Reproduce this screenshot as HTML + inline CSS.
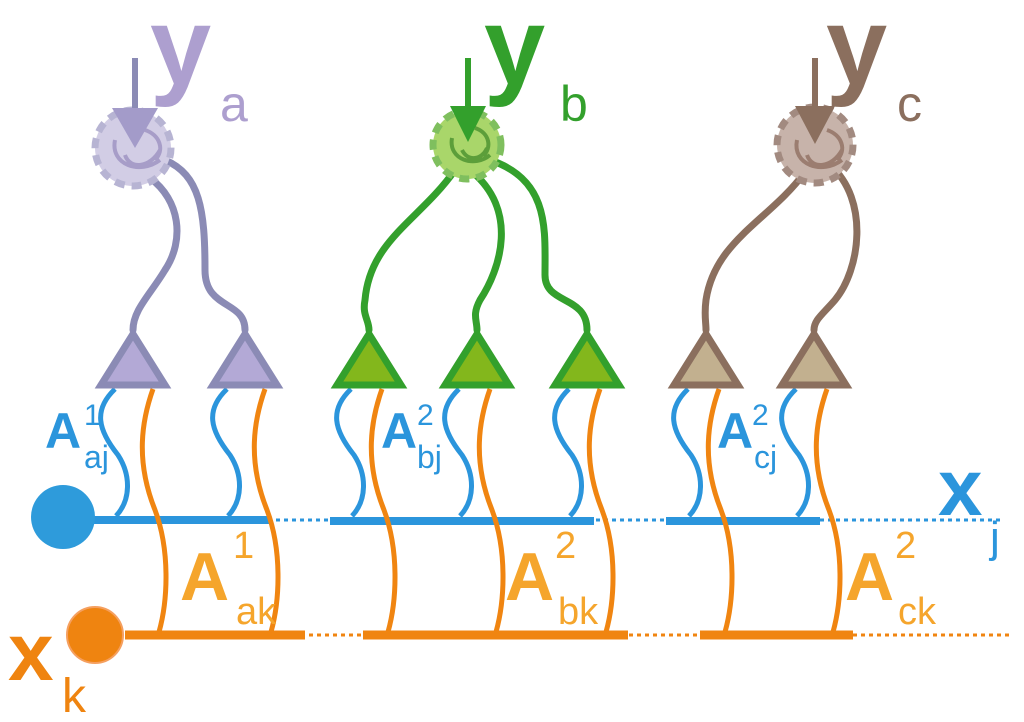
<!DOCTYPE html>
<html><head><meta charset="utf-8"><style>html,body{margin:0;padding:0;background:#fff}svg{display:block}text{font-family:"Liberation Sans",sans-serif}</style></head><body>
<svg width="1024" height="722" viewBox="0 0 1024 722" xmlns="http://www.w3.org/2000/svg">
<defs>
<g id="bw"><path d="M-18,389 C-40,410 -35,430 -15,455 C-2,475 -2,500 -17,516" fill="none" stroke="#2b95dc" stroke-width="5"/></g>
<g id="ow"><path d="M13,389 C2,420 -5,460 15,510 C30,550 28,600 19,632" fill="none" stroke="#f08511" stroke-width="5"/></g>
</defs>
<line x1="60" y1="520" x2="1000" y2="520" stroke="#2b95dc" stroke-width="3" stroke-dasharray="4,4"/>
<line x1="125" y1="635" x2="1010" y2="635" stroke="#f08511" stroke-width="3" stroke-dasharray="4,4"/>
<g stroke="#2b95dc" stroke-width="8"><line x1="60" y1="520" x2="270" y2="520"/><line x1="330" y1="521" x2="594" y2="521"/><line x1="666" y1="521" x2="820" y2="521"/></g>
<g stroke="#f08511" stroke-width="9"><line x1="125" y1="635" x2="305" y2="635"/><line x1="363" y1="635" x2="628" y2="635"/><line x1="700" y1="635" x2="853" y2="635"/></g>
<use href="#bw" x="133"/><use href="#ow" x="140"/><use href="#bw" x="245"/><use href="#ow" x="252"/>
<use href="#bw" x="369"/><use href="#ow" x="369"/><use href="#bw" x="477"/><use href="#ow" x="477"/><use href="#bw" x="587"/><use href="#ow" x="587"/>
<use href="#bw" x="706"/><use href="#ow" x="706"/><use href="#bw" x="814"/><use href="#ow" x="814"/>
<circle cx="63" cy="517" r="32" fill="#2e9bdb"/>
<circle cx="95" cy="635" r="28" fill="#ef8410" stroke="#f5a060" stroke-width="2"/>
<g fill="none" stroke-width="7" stroke-linecap="round">
<path d="M150,178 C180,200 185,240 165,270 C150,295 133,310 133,330" stroke="#8b8bb5"/>
<path d="M165,160 C200,175 205,210 205,270 C205,310 245,300 245,330" stroke="#8b8bb5"/>
<path d="M455,170 C420,220 370,240 365,300 C362,315 369,320 369,330" stroke="#33a02c"/>
<path d="M470,170 C520,210 500,270 480,300 C472,315 477,320 477,330" stroke="#33a02c"/>
<path d="M490,160 C550,180 545,230 545,275 C545,305 587,295 587,330" stroke="#33a02c"/>
<path d="M805,172 C770,220 715,240 706,300 C704,315 706,322 706,330" stroke="#8b6f5e"/>
<path d="M830,165 C870,200 860,270 835,300 C822,315 814,320 814,330" stroke="#8b6f5e"/>
</g>
<g stroke-width="7" stroke-linejoin="miter">
<polygon points="133,334 101,385 165,385" fill="#b3a9d6" stroke="#8b8bb5"/>
<polygon points="245,334 213,385 277,385" fill="#b3a9d6" stroke="#8b8bb5"/>
<polygon points="369,334 337,385 401,385" fill="#83b71c" stroke="#33a02c"/>
<polygon points="477,334 445,385 509,385" fill="#83b71c" stroke="#33a02c"/>
<polygon points="587,334 555,385 619,385" fill="#83b71c" stroke="#33a02c"/>
<polygon points="706,334 674,385 738,385" fill="#c2b08f" stroke="#8b6f5e"/>
<polygon points="814,334 782,385 846,385" fill="#c2b08f" stroke="#8b6f5e"/>
</g>
<g stroke-width="7" stroke-dasharray="10,7">
<circle cx="133" cy="148" r="38" fill="#d2cde5" stroke="#b7b4d3"/>
<circle cx="467" cy="145" r="34" fill="#a9d66a" stroke="#7fbf5e"/>
<circle cx="815" cy="145" r="38" fill="#c7b3aa" stroke="#a28a80"/>
</g>
<g fill="none" stroke-width="4">
<path d="M115,140 C110,165 140,175 160,160 M125,155 C130,170 150,168 160,150 M145,130 C160,135 165,150 155,160" stroke="#a79dc8"/>
<path d="M452,138 C448,160 475,168 490,155 M462,150 C468,162 482,160 487,148 M475,128 C490,133 492,148 483,156" stroke="#5c9e3a"/>
<path d="M797,140 C792,165 822,175 842,160 M807,155 C812,170 832,168 842,150 M827,130 C842,135 847,150 837,160" stroke="#9b7d70"/>
</g>
<g stroke-width="6"><line x1="135" y1="58" x2="135" y2="125" stroke="#8b8bb5"/><line x1="468" y1="58" x2="468" y2="120" stroke="#33a02c"/><line x1="815" y1="58" x2="815" y2="120" stroke="#8b6f5e"/></g>
<polygon points="112,108 158,108 135,148" fill="#a39bc9"/>
<polygon points="450,106 486,106 468,142" fill="#33a02c"/>
<polygon points="795,106 835,106 815,144" fill="#8b6f5e"/>
<text x="150" y="84" font-size="110" font-weight="bold" fill="#ad9fcf">y</text>
<text x="220" y="121" font-size="50" fill="#ad9fcf">a</text>
<text x="484" y="84" font-size="110" font-weight="bold" fill="#33a02c">y</text>
<text x="560" y="121" font-size="50" fill="#33a02c">b</text>
<text x="826" y="84" font-size="110" font-weight="bold" fill="#8b6f5e">y</text>
<text x="897" y="121" font-size="50" fill="#8b6f5e">c</text>
<g fill="#2b95dc">
<text x="45" y="448" font-size="50" font-weight="bold">A</text><text x="84" y="425" font-size="30">1</text><text x="84" y="468" font-size="32">aj</text>
<text x="381" y="448" font-size="50" font-weight="bold">A</text><text x="417" y="425" font-size="30">2</text><text x="417" y="468" font-size="32">bj</text>
<text x="717" y="448" font-size="50" font-weight="bold">A</text><text x="752" y="425" font-size="30">2</text><text x="754" y="468" font-size="32">cj</text>
<text x="938" y="515" font-size="80" font-weight="bold">x</text><text x="990" y="552" font-size="44">j</text>
</g>
<g fill="#f5a52c">
<text x="180" y="600" font-size="68" font-weight="bold">A</text><text x="233" y="558" font-size="38">1</text><text x="236" y="624" font-size="38">ak</text>
<text x="505" y="600" font-size="68" font-weight="bold">A</text><text x="555" y="558" font-size="38">2</text><text x="558" y="624" font-size="38">bk</text>
<text x="845" y="600" font-size="68" font-weight="bold">A</text><text x="895" y="558" font-size="38">2</text><text x="898" y="624" font-size="38">ck</text>
</g>
<text x="8" y="680" font-size="82" font-weight="bold" fill="#ef8410">x</text>
<text x="62" y="712" font-size="48" fill="#ef8410">k</text>
</svg>
</body></html>
